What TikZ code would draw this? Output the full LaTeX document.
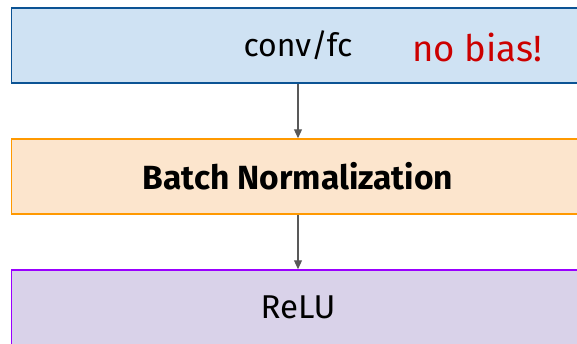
\documentclass[tikz,border=0pt]{standalone}
\usepackage{fontspec}
\setmainfont{Fira Sans}
\usetikzlibrary{arrows.meta}
\definecolor{bluefill}{HTML}{CFE2F3}
\definecolor{blueline}{HTML}{0B5394}
\definecolor{orangefill}{HTML}{FCE5CD}
\definecolor{orangeline}{HTML}{FF9900}
\definecolor{purplefill}{HTML}{D9D2E9}
\definecolor{purpleline}{HTML}{9900FF}
\definecolor{arrowgray}{HTML}{595959}
\definecolor{biasred}{HTML}{CC0000}
\tikzset{
  layerbox/.style={rectangle, line width=1.5pt, minimum width=573pt, minimum height=75pt, inner sep=0pt},
  labeltext/.style={font=\fontsize{32}{36}\selectfont},
  flowarrow/.style={draw=arrowgray, line width=1.2pt, -{Triangle[length=9pt,width=8pt]}}
}
\begin{document}
\begin{tikzpicture}[x=1pt,y=-1pt]
\useasboundingbox (0,0) rectangle (577,343);
\clip (0,0) rectangle (577,343);
\node[layerbox, fill=bluefill, draw=blueline, labeltext] (conv) at (298,45.5) {conv/fc};
\node[layerbox, fill=orangefill, draw=orangeline, font=\fontsize{33.5}{38}\selectfont\bfseries] (bn) at (298,176.5) {Batch Normalization};
\node[layerbox, fill=purplefill, draw=purpleline, font=\fontsize{33}{38}\selectfont] (relu) at (298,307.5) {ReLU};
\node[text=biasred, font=\fontsize{36.5}{40}\selectfont, inner sep=0pt] (bias) at (477,47) {no bias!};
\draw[flowarrow] (conv.south) -- (bn.north);
\draw[flowarrow] (bn.south) -- (relu.north);
\end{tikzpicture}
\end{document}
